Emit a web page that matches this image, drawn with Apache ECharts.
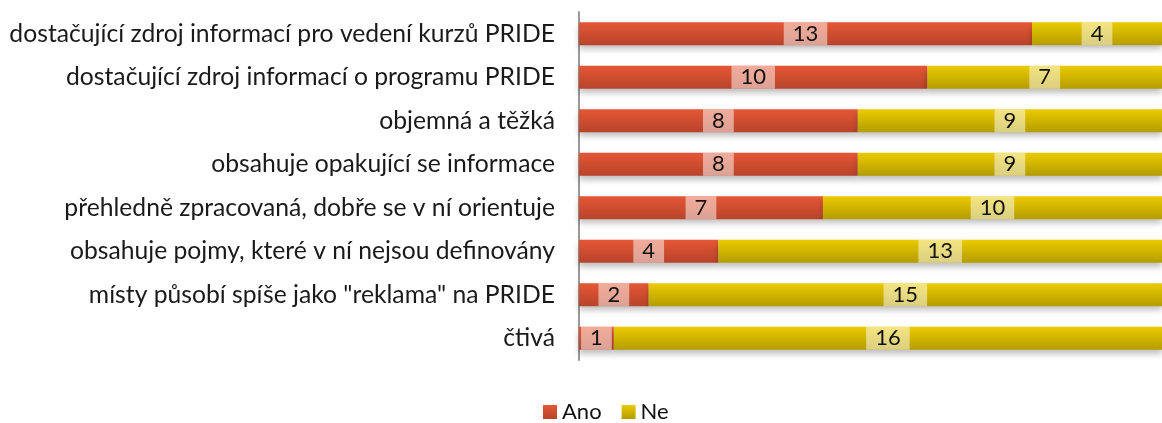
<!DOCTYPE html>
<html>
<head>
<meta charset="utf-8">
<script src="https://cdn.jsdelivr.net/npm/echarts@6/dist/echarts.min.js"></script>
<style>
  html, body { margin: 0; padding: 0; background: #fff; }
  #chart { width: 1162px; height: 423px; }
</style>
</head>
<body>
<div id="chart"></div>
<script>
// data, top to bottom
var categories = [
  "dostačující zdroj informací pro vedení kurzů PRIDE",
  "dostačující zdroj informací o programu PRIDE",
  "objemná a těžká",
  "obsahuje opakující se informace",
  "přehledně zpracovaná, dobře se v ní orientuje",
  "obsahuje pojmy, které v ní nejsou definovány",
  "místy působí spíše jako \"reklama\" na PRIDE",
  "čtivá"
];
var ano = [13, 10, 8, 8, 7, 4, 2, 1];
var ne = [4, 7, 9, 9, 10, 13, 15, 16];
var seriesNames = ["Ano", "Ne"];

var font = "Lato, 'Open Sans', sans-serif";

function grad(top, bottom) {
  return new echarts.graphic.LinearGradient(0, 0, 0, 1, [
    { offset: 0, color: top },
    { offset: 1, color: bottom }
  ]);
}

var labelStyle = {
  show: true,
  position: "inside",
  color: "#111",
  fontSize: 22,
  fontFamily: font,
  backgroundColor: "rgba(255,255,255,0.5)",
  padding: [1, 9, 0, 9],
  lineHeight: 22
};

var chart = echarts.init(document.getElementById("chart"));
chart.setOption({
  animation: false,
  // the axis runs a little past the right edge, so the bars are cut there
  grid: { left: 579, right: 0, top: 12, bottom: 63 },
  legend: {
    data: seriesNames,
    top: 396,
    left: 538,
    itemWidth: 14,
    itemHeight: 14,
    itemGap: 20,
    icon: "rect",
    textStyle: { fontSize: 22, fontFamily: font, color: "#111" }
  },
  xAxis: {
    type: "value",
    min: 0,
    max: 16.73,
    show: false
  },
  yAxis: {
    type: "category",
    inverse: true,
    data: categories,
    axisLine: { show: true, lineStyle: { color: "#999", width: 2 } },
    axisTick: { show: false },
    axisLabel: {
      fontSize: 24.7,
      fontFamily: font,
      color: "#1a1a1a",
      margin: 24
    }
  },
  series: [
    {
      name: seriesNames[0],
      type: "bar",
      stack: "a",
      barWidth: "53%",
      data: ano,
      itemStyle: {
        color: grad("#E55736", "#B8432A"),
        shadowColor: "rgba(0,0,0,0.25)",
        shadowBlur: 6,
        shadowOffsetY: 4
      },
      label: labelStyle
    },
    {
      name: seriesNames[1],
      type: "bar",
      stack: "a",
      barWidth: "53%",
      data: ne,
      itemStyle: {
        color: grad("#EACB00", "#B59C00"),
        shadowColor: "rgba(0,0,0,0.25)",
        shadowBlur: 6,
        shadowOffsetY: 4
      },
      label: labelStyle
    }
  ]
});
</script>
</body>
</html>
